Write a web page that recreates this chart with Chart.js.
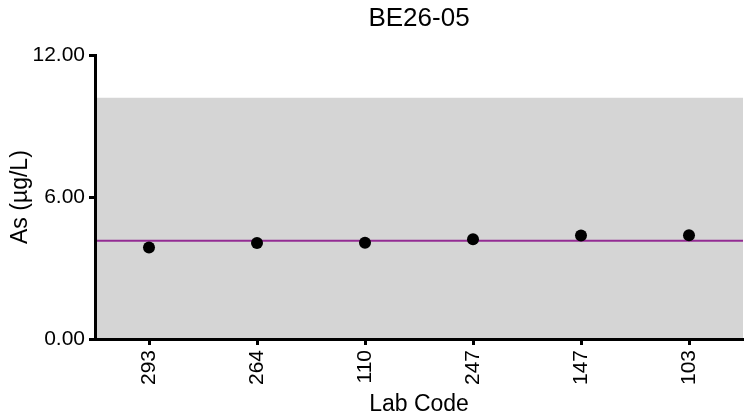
<!DOCTYPE html>
<html lang="en">
<head>
    <meta charset="UTF-8">
    <title>BE26-05</title>
    <style>
        html, body { margin: 0; padding: 0; overflow: hidden; background: #fff; }
        #wrap { width: 749px; height: 416px; }
    </style>
</head>
<body>
<script src="https://cdn.jsdelivr.net/npm/chart.js"></script>
<div id="wrap">
  <canvas id="myChart"></canvas>
</div>
    <script>
        // lab results
        var labCodes = ['293', '264', '110', '247', '147', '103']
        var asValues = [3.87, 4.06, 4.07, 4.22, 4.38, 4.39]
        // assigned value and acceptance band
        var assigned = 4.15
        var bandLow = 0
        var bandHigh = 10.2
        var yTicks = [0, 6, 12]

        Chart.defaults.font.family = '"Liberation Sans", Arial, sans-serif'
        Chart.defaults.color = '#000'

        // grey acceptance range + purple assigned line, drawn under the axes
        const bandPlugin = {
            id: 'band',
            beforeDraw(chart) {
                const ctx = chart.ctx
                const a = chart.chartArea
                const y = chart.scales.y
                const top = y.getPixelForValue(bandHigh)
                const bot = y.getPixelForValue(bandLow)
                ctx.save()
                ctx.fillStyle = '#d5d5d5'
                ctx.fillRect(a.left, top, a.right - a.left, bot - top)
                const ya = y.getPixelForValue(assigned)
                ctx.strokeStyle = '#932c93'
                ctx.lineWidth = 2
                ctx.beginPath()
                ctx.moveTo(a.left, ya)
                ctx.lineTo(a.right, ya)
                ctx.stroke()
                ctx.restore()
            }
        }

        const data = {
          labels: labCodes,
          datasets: [{
            label: 'As',
            data: asValues,
            showLine: false,
            pointRadius: 6,
            pointBackgroundColor: '#000',
            pointBorderColor: '#000',
            pointBorderWidth: 0
          }]
        };

        const config = {
          type: 'line',
          data,
          plugins: [bandPlugin],
          options: {
            responsive: true,
            maintainAspectRatio: false,
            animation: false,
            layout: { padding: 0 },
            plugins: {
              legend: { display: false },
              tooltip: { enabled: false },
              title: {
                display: true,
                text: 'BE26-05',
                fullSize: false,
                font: { size: 26, weight: 'normal' },
                padding: { top: 3, bottom: 21 }
              }
            },
            scales: {
              x: {
                offset: true,
                grid: { drawOnChartArea: false, drawTicks: true, tickLength: 6, tickWidth: 3, tickColor: '#000', offset: false },
                border: { display: true, color: '#000', width: 3 },
                ticks: { minRotation: 90, maxRotation: 90, padding: 5, font: { size: 21 } },
                title: { display: true, text: 'Lab Code', font: { size: 23, lineHeight: 1 }, padding: { top: 0, bottom: 0 } },
                afterFit(axis) { axis.height = 77 }
              },
              y: {
                min: yTicks[0],
                max: yTicks[yTicks.length - 1],
                afterBuildTicks(axis) { axis.ticks = yTicks.map(v => ({ value: v })) },
                grid: { drawOnChartArea: false, drawTicks: true, tickLength: 6, tickWidth: 3, tickColor: '#000' },
                border: { display: true, color: '#000', width: 3 },
                ticks: { padding: 4, font: { size: 21 }, callback: v => v.toFixed(2) },
                title: { display: true, text: 'As (µg/L)', font: { size: 23 }, padding: { top: 7, bottom: 0 } },
                afterFit(axis) { axis.width = 95 }
              }
            }
          }
        };

        var myChart = new Chart(
            document.getElementById('myChart'),
            config
        );
    </script>
</body>
</html>
